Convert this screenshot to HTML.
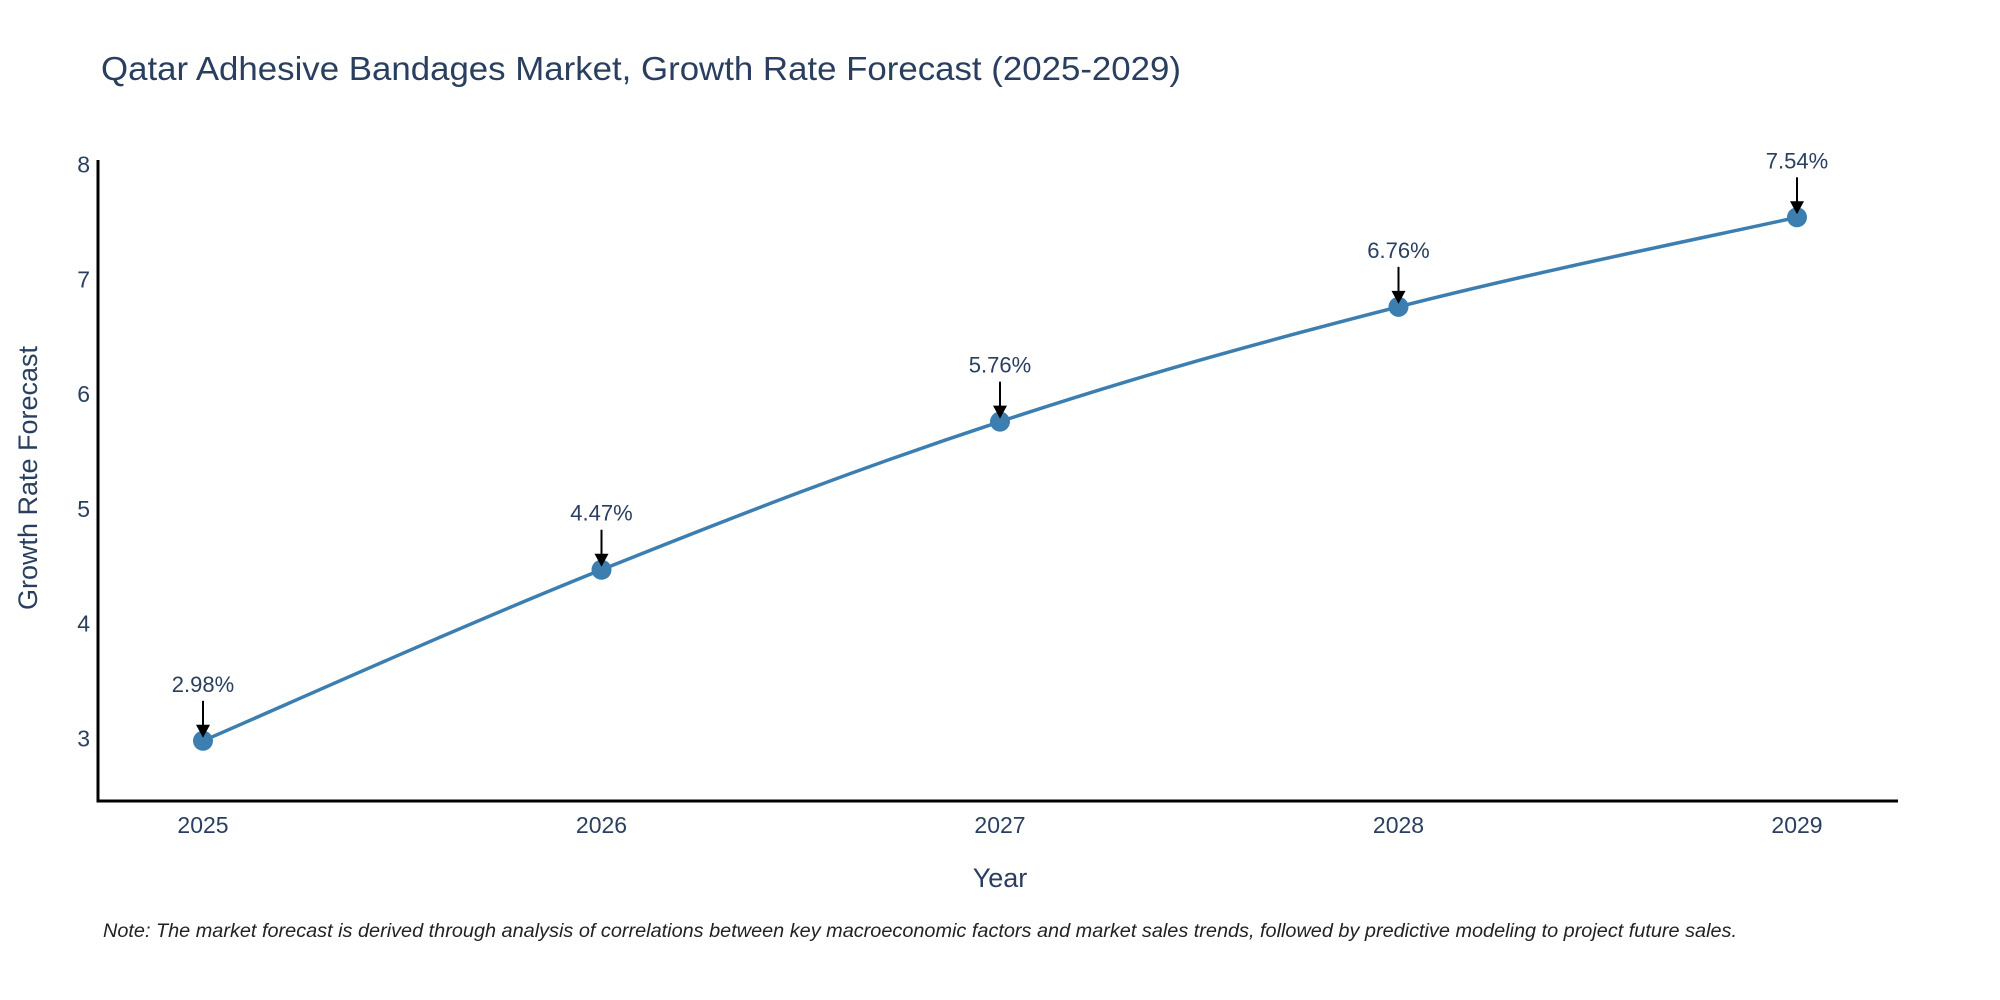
<!DOCTYPE html>
<html><head><meta charset="utf-8"><style>
html,body{margin:0;padding:0;background:#fff;}
svg{display:block;font-family:"Liberation Sans",sans-serif;}
</style></head><body>
<svg id="chart" width="2000" height="1000" viewBox="0 0 2000 1000">
<text x="101" y="80" font-size="33" fill="#2a3f5f" textLength="1080" lengthAdjust="spacingAndGlyphs">Qatar Adhesive Bandages Market, Growth Rate Forecast (2025-2029)</text>
<g id="plot"></g>
<text x="1000" y="887" font-size="27" fill="#2a3f5f" text-anchor="middle">Year</text>
<text transform="translate(37,478) rotate(-90)" font-size="27" fill="#2a3f5f" text-anchor="middle">Growth Rate Forecast</text>
<text x="103" y="937" font-size="19" font-style="italic" fill="#222" textLength="1634" lengthAdjust="spacingAndGlyphs">Note: The market forecast is derived through analysis of correlations between key macroeconomic factors and market sales trends, followed by predictive modeling to project future sales.</text>
</svg>
<script>
const years = [2025, 2026, 2027, 2028, 2029];
const rates = [2.98, 4.47, 5.76, 6.76, 7.54];
const labels = ["2.98%", "4.47%", "5.76%", "6.76%", "7.54%"];
const yTicks = [3, 4, 5, 6, 7, 8];

const NS = "http://www.w3.org/2000/svg";
const g = document.getElementById("plot");
const L = 98, R = 1898, T = 160, B = 801;
const x = v => 203 + (v - 2025) * (1797 - 203) / 4;
const y = v => 738.5 - (v - 3) * (738.5 - 164.5) / 5;
function el(tag, attrs) { const e = document.createElementNS(NS, tag); for (const k in attrs) e.setAttribute(k, attrs[k]); g.appendChild(e); return e; }

const ya = el("line", {x1: L, y1: T, x2: L, y2: B + 1.5, stroke: "#000", "stroke-width": 3});


const xa = el("line", {x1: L - 1.5, y1: B, x2: R, y2: B, stroke: "#000", "stroke-width": 3});



yTicks.forEach(t => {
  const tx = el("text", {x: 90, y: y(t) + 8, "font-size": 23, fill: "#2a3f5f", "text-anchor": "end"});
  tx.textContent = t;
  
  
});
years.forEach(yr => {
  const tx = el("text", {x: x(yr), y: 833, "font-size": 23, fill: "#2a3f5f", "text-anchor": "middle"});
  tx.textContent = yr;
  
  
});

const pts = years.map((yr, i) => [x(yr), y(rates[i])]);
let d = "M" + pts[0][0] + "," + pts[0][1];
const k = 0.18;
for (let i = 0; i < pts.length - 1; i++) {
  const p0 = pts[Math.max(0, i - 1)], p1 = pts[i], p2 = pts[i + 1], p3 = pts[Math.min(pts.length - 1, i + 2)];
  const c1 = [p1[0] + (p2[0] - p0[0]) * k, p1[1] + (p2[1] - p0[1]) * k];
  const c2 = [p2[0] - (p3[0] - p1[0]) * k, p2[1] - (p3[1] - p1[1]) * k];
  d += " C" + c1 + " " + c2 + " " + p2;
}
const line = el("path", {d: d, fill: "none", stroke: "#3d7eb0", "stroke-width": 3.5});



pts.forEach((p, i) => {
  const c = el("circle", {cx: p[0], cy: p[1], r: 10, fill: "#3d7eb0"});
  
  
  const a = el("line", {x1: p[0], y1: p[1] - 40, x2: p[0], y2: p[1] - 14, stroke: "#000", "stroke-width": 2});
  
  
  const h = el("polygon", {points: (p[0] - 7) + "," + (p[1] - 16) + " " + (p[0] + 7) + "," + (p[1] - 16) + " " + p[0] + "," + (p[1] - 3), fill: "#000"});
  
  
  const t = el("text", {x: p[0], y: p[1] - 49, "font-size": 22, fill: "#2a3f5f", "text-anchor": "middle"});
  t.textContent = labels[i];
  
  
});
</script>
</body></html>
